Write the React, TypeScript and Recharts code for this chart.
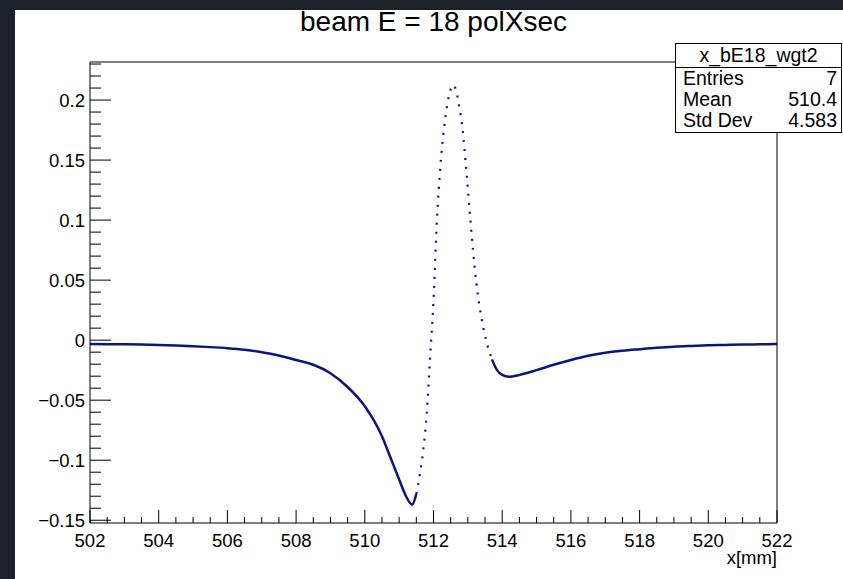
import React from 'react';
import { LineChart, Line, XAxis, YAxis } from 'recharts';

// x position [mm] and weighted polXsec value
const X_MM = [
  502.0, 502.5, 503.0, 503.5, 504.0, 504.5, 505.0, 505.5, 506.0, 506.5,
  507.0, 507.5, 508.0, 508.5, 509.0, 509.5, 510.0, 510.5, 510.75, 511.0,
  511.2, 511.38, 511.5, 511.6, 511.7, 511.8, 511.9, 512.0, 512.1, 512.2,
  512.3, 512.4, 512.5, 512.57, 512.65, 512.75, 512.85, 512.95, 513.05, 513.15,
  513.25, 513.4, 513.55, 513.7, 513.85, 514.0, 514.2, 514.5, 515.0, 515.5,
  516.0, 516.5, 517.0, 517.5, 518.0, 518.5, 519.0, 519.5, 520.0, 520.5,
  521.0, 521.5, 522.0,
];
const POL_XSEC = [
  -0.0033, -0.0034, -0.0035, -0.0037, -0.004, -0.0045, -0.0051, -0.0058, -0.0067, -0.008,
  -0.01, -0.0128, -0.0165, -0.0205, -0.0275, -0.039, -0.055, -0.08, -0.098, -0.116,
  -0.13, -0.137, -0.128, -0.112, -0.092, -0.062, -0.015, 0.033, 0.1, 0.145,
  0.175, 0.196, 0.209, 0.2125, 0.209, 0.194, 0.175, 0.143, 0.109, 0.075,
  0.047, 0.018, -0.002, -0.016, -0.025, -0.029, -0.0305, -0.029, -0.025, -0.0205,
  -0.0165, -0.013, -0.0105, -0.0088, -0.0075, -0.0063, -0.0054, -0.0048, -0.0043, -0.004,
  -0.0037, -0.0035, -0.0033,
];

const X_MAJOR = [502, 504, 506, 508, 510, 512, 514, 516, 518, 520, 522];
const Y_MAJOR = [-0.15, -0.1, -0.05, 0, 0.05, 0.1, 0.15, 0.2];
const Y_LABELS = ['\u22120.15', '\u22120.1', '\u22120.05', '0', '0.05', '0.1', '0.15', '0.2'];

const STATS = [
  { name: 'Entries', value: '7' },
  { name: 'Mean', value: '510.4' },
  { name: 'Std Dev', value: '4.583' },
];

const X_DOMAIN: [number, number] = [502, 522];
const Y_DOMAIN: [number, number] = [-0.1523, 0.2317];
const FONT = '"Liberation Sans", Arial, Helvetica, sans-serif';
const INK = '#0d1480';

// steep part of the curve is drawn as sparse dots in the original
const data = X_MM.map((x, i) => {
  const y = POL_XSEC[i];
  return {
    x,
    solid: x <= 511.5 || x >= 513.7 ? y : null,
    steep: x >= 511.5 && x <= 513.7 ? y : null,
  };
});

const xTicks: number[] = [];
for (let v = 502; v <= 522.0001; v += 0.5) xTicks.push(Math.round(v * 10) / 10);
const yTicks: number[] = [];
for (let k = -15; k <= 23; k++) yTicks.push(k / 100);

const isMajor = (v: number, list: number[]) => list.some((m) => Math.abs(m - v) < 1e-6);

const XTick = (props: any) => {
  const { x, y, payload } = props;
  const major = isMajor(payload.value, X_MAJOR);
  return (
    <g>
      <line x1={x} y1={y} x2={x} y2={y - (major ? 13 : 6)} stroke="#000" strokeWidth={1} />
      {major && (
        <text x={x} y={y + 17} textAnchor="middle" dominantBaseline="central"
          fontFamily={FONT} fontSize={18.5} fill="#000">
          {payload.value}
        </text>
      )}
    </g>
  );
};

const YTick = (props: any) => {
  const { x, y, payload } = props;
  const idx = Y_MAJOR.findIndex((m) => Math.abs(m - payload.value) < 1e-6);
  const major = idx >= 0;
  return (
    <g>
      <line x1={x} y1={y} x2={x + (major ? 21 : 11)} y2={y} stroke="#000" strokeWidth={1} />
      {major && (
        <text x={x - 5} y={y} textAnchor="end" dominantBaseline="central"
          fontFamily={FONT} fontSize={18.5} fill="#000">
          {Y_LABELS[idx]}
        </text>
      )}
    </g>
  );
};

const App: React.FC = () => {
  return (
    <div style={{ position: 'fixed', left: 0, top: 0, width: 843, height: 579, background: '#1d212a', overflow: 'hidden' }}>
      <div style={{ position: 'absolute', left: 15, top: 10, right: 0, bottom: 0, background: '#fff' }} />
      <div style={{ position: 'absolute', left: 0, top: 0 }}>
        <LineChart width={843} height={579} data={data} margin={{ top: 61, right: 65, bottom: 55, left: 89 }}>
          <XAxis dataKey="x" type="number" domain={X_DOMAIN} ticks={xTicks} interval={0}
            allowDataOverflow tickSize={0} tickMargin={0} tickLine={false} height={1}
            axisLine={{ stroke: '#000' }} tick={<XTick />} />
          <XAxis xAxisId="top" orientation="top" type="number" domain={X_DOMAIN}
            tick={false} tickLine={false} height={1} axisLine={{ stroke: '#000' }} />
          <YAxis type="number" domain={Y_DOMAIN} ticks={yTicks} interval={0} allowDataOverflow
            tickSize={0} tickMargin={0} tickLine={false} width={1}
            axisLine={{ stroke: '#000' }} tick={<YTick />} />
          <YAxis yAxisId="right" orientation="right" type="number" domain={Y_DOMAIN}
            tick={false} tickLine={false} width={1} axisLine={{ stroke: '#000' }} />
          <Line dataKey="solid" type="monotone" stroke={INK} strokeWidth={2.5} dot={false}
            isAnimationActive={false} connectNulls={false} />
          <Line dataKey="steep" type="monotone" stroke={INK} strokeWidth={2.2} strokeDasharray="2 7"
            dot={false} isAnimationActive={false} connectNulls={false} />
        </LineChart>
      </div>

      <div style={{ position: 'absolute', left: 0, width: 843, top: 6, textAlign: 'center', paddingLeft: 24, boxSizing: 'border-box',
        fontFamily: FONT, fontSize: 28, color: '#000' }}>
        beam E = 18 polXsec
      </div>

      <div style={{ position: 'absolute', right: 66, top: 547, fontFamily: FONT, fontSize: 18.5, color: '#000' }}>
        x[mm]
      </div>

      <div style={{ position: 'absolute', left: 675, top: 43, width: 165, height: 88, border: '1px solid #000',
        background: '#fff', fontFamily: FONT, fontSize: 19.5, color: '#000' }}>
        <div style={{ height: 23, borderBottom: '1px solid #000', textAlign: 'center', lineHeight: '23px' }}>
          x_bE18_wgt2
        </div>
        {STATS.map((s) => (
          <div key={s.name} style={{ display: 'flex', justifyContent: 'space-between', padding: '0 4px 0 7px',
            height: 21, lineHeight: '21px' }}>
            <span>{s.name}</span>
            <span>{s.value}</span>
          </div>
        ))}
      </div>
    </div>
  );
};

export default App;
